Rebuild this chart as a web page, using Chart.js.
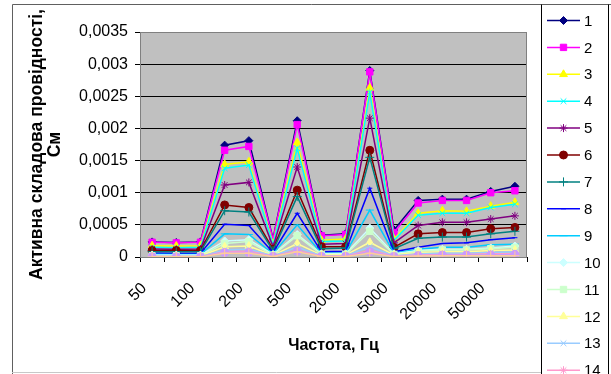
<!DOCTYPE html>
<html>
<head>
    <title>Активна складова провідності</title>
    <script src="https://cdn.jsdelivr.net/npm/chart.js"></script>
    <style>
        html, body {
            margin: 0;
            padding: 0;
            background: #fff;
            overflow: hidden;
        }
        #wrap {
            width: 611px;
            height: 374px;
        }
    </style>
</head>
<body>
    <div id="wrap"><canvas id="myChart"></canvas></div>

    <script>
        // frequency, Hz (only every second one is labelled on the axis)
        const freqLabels = ['50', '70', '100', '150', '200', '300', '500', '1000', '2000', '3000', '5000', '10000', '20000', '30000', '50000', '100000'];

        const s1 = [0.000235, 0.000225, 0.000235, 0.00174, 0.00181, 0.00028, 0.00212, 0.00034, 0.00036, 0.0029, 0.00042, 0.00088, 0.0009, 0.0009, 0.00102, 0.0011];
        const s2 = [0.00023, 0.00022, 0.00023, 0.00166, 0.00172, 0.000275, 0.00206, 0.00033, 0.00035, 0.00288, 0.00038, 0.00084, 0.00088, 0.00088, 0.001, 0.00103];
        const s3 = [0.000176, 0.00017, 0.000176, 0.00144, 0.00148, 0.00021, 0.00178, 0.00026, 0.00028, 0.00263, 0.00028, 0.00068, 0.00072, 0.00071, 0.00079, 0.00085];
        const s4 = [0.00015, 0.000145, 0.00015, 0.00138, 0.00143, 0.00019, 0.00169, 0.00024, 0.00025, 0.00256, 0.00026, 0.00065, 0.00068, 0.00068, 0.00077, 0.00082];
        const s5 = [0.000124, 0.00012, 0.000124, 0.00112, 0.00116, 0.00016, 0.0014, 0.0002, 0.00021, 0.00216, 0.00022, 0.00049, 0.00054, 0.00054, 0.00059, 0.00064];
        const s6 = [0.0001, 0.0001, 0.0001, 0.00081, 0.00077, 0.00012, 0.00104, 0.00016, 0.00016, 0.00166, 0.00015, 0.00036, 0.00038, 0.00038, 0.00044, 0.00046];
        const s7 = [0.000083, 0.00008, 0.000083, 0.00072, 0.0007, 0.0001, 0.00094, 0.00013, 0.00014, 0.00155, 0.00013, 0.00029, 0.00031, 0.00031, 0.00036, 0.0004];
        const s8 = [0.000057, 0.000055, 0.000057, 0.00051, 0.00049, 0.00007, 0.00068, 0.00008, 0.00009, 0.00107, 0.00008, 0.00015, 0.00021, 0.00022, 0.00027, 0.0003];
        const s9 = [0.000041, 0.00004, 0.000041, 0.00036, 0.00035, 0.00005, 0.0005, 0.00006, 0.00006, 0.00073, 0.00006, 0.00012, 0.00015, 0.00015, 0.00019, 0.0002];
        const s10 = [0.00003, 0.00003, 0.00003, 0.00025, 0.00027, 0.00004, 0.00035, 0.00005, 0.00005, 0.00045, 0.00005, 0.0001, 0.00012, 0.00012, 0.00014, 0.00017];
        const s11 = [0.00002, 0.00002, 0.00002, 0.00021, 0.00024, 0.00003, 0.00033, 0.00004, 0.00004, 0.0004, 0.00004, 0.00009, 0.00011, 0.00011, 0.00013, 0.00015];
        const s12 = [0.000016, 0.000016, 0.000016, 0.00016, 0.00017, 0.000025, 0.00021, 0.00003, 0.00003, 0.00023, 0.00003, 0.00007, 0.00008, 0.00008, 0.0001, 0.00011];
        const s13 = [0.00001, 0.00001, 0.00001, 0.00011, 0.00012, 0.00002, 0.00015, 0.00002, 0.00002, 0.00016, 0.00002, 0.00005, 0.00006, 0.00006, 0.00007, 0.00008];
        const s14 = [0.000006, 0.000006, 0.000006, 0.00008, 0.00009, 0.000012, 0.0001, 0.000015, 0.000015, 0.0001, 0.000015, 0.00003, 0.00004, 0.00004, 0.00005, 0.00005];
        const s15 = [0.000004, 0.000004, 0.000004, 0.00007, 0.00007, 0.00001, 0.00009, 0.00001, 0.00001, 0.00008, 0.00001, 0.00002, 0.00003, 0.00003, 0.00003, 0.00004];
        const s16 = [0.000002, 0.000002, 0.000002, 0.00006, 0.00006, 0.000008, 0.00008, 0.000008, 0.000008, 0.00006, 0.000008, 0.000015, 0.00002, 0.00002, 0.00002, 0.00002];

        const seriesNames = ['1', '2', '3', '4', '5', '6', '7', '8', '9', '10', '11', '12', '13', '14', '15', '16'];
        const seriesData = [s1, s2, s3, s4, s5, s6, s7, s8, s9, s10, s11, s12, s13, s14, s15, s16];

        const colors = ['#000080', '#FF00FF', '#FFFF00', '#00FFFF', '#800080', '#800000', '#008080', '#0000FF',
                        '#00CCFF', '#CCFFFF', '#CCFFCC', '#FFFF99', '#99CCFF', '#FF99CC', '#CC99FF', '#FFCC99'];
        const markers = ['rectRot', 'rect', 'triangle', 'crossRot', 'star', 'circle', 'cross', 'line',
                         'line', 'rectRot', 'rect', 'triangle', 'crossRot', 'star', 'circle', 'cross'];
        const markerSize = [4, 4.5, 4.5, 4, 4, 4, 4.5, 2.5, 4, 4, 4.5, 4.5, 4, 4, 4, 4.5];

        const FONT = "'Liberation Sans', Arial, sans-serif";

        const datasets = seriesData.map((d, i) => ({
            label: seriesNames[i],
            data: d,
            borderColor: colors[i],
            backgroundColor: colors[i],
            pointBackgroundColor: colors[i],
            pointBorderColor: colors[i],
            pointStyle: markers[i],
            pointRadius: markerSize[i],
            pointBorderWidth: 1,
            borderWidth: 1.5,
            tension: 0,
            order: seriesData.length - i   // later series on top, as in Excel
        }));

        // grey plot area + white page
        const bgPlugin = {
            id: 'bg',
            beforeDraw(chart) {
                const ctx = chart.ctx;
                const a = chart.chartArea;
                ctx.save();
                ctx.fillStyle = '#fff';
                ctx.fillRect(0, 0, chart.width, chart.height);
                ctx.fillStyle = '#C0C0C0';
                ctx.fillRect(a.left, a.top, a.right - a.left, a.bottom - a.top);
                ctx.restore();
            },
            beforeDatasetsDraw(chart) {
                const ctx = chart.ctx;
                const a = chart.chartArea;
                ctx.save();
                ctx.strokeStyle = '#808080';
                ctx.lineWidth = 1;
                ctx.strokeRect(a.left + 0.5, a.top + 0.5, a.right - a.left - 1, a.bottom - a.top);
                ctx.restore();
            }
        };

        // frame and the legend box on the right (runs past the bottom edge)
        const legendPlugin = {
            id: 'boxLegend',
            afterDraw(chart) {
                const ctx = chart.ctx;
                ctx.save();
                ctx.lineWidth = 1;
                ctx.strokeStyle = '#606060';
                ctx.beginPath();
                ctx.moveTo(12.5, 374);
                ctx.lineTo(12.5, 4.5);
                ctx.lineTo(611, 4.5);
                ctx.stroke();
                ctx.strokeStyle = '#c8c8c8';
                ctx.beginPath();
                ctx.moveTo(12, 372.5);
                ctx.lineTo(541, 372.5);
                ctx.stroke();
                ctx.strokeStyle = '#000';
                ctx.beginPath();
                ctx.moveTo(541.5, 4.5);
                ctx.lineTo(541.5, 374);
                ctx.moveTo(608.5, 4.5);
                ctx.lineTo(608.5, 374);
                ctx.stroke();

                ctx.font = '15px ' + FONT;
                ctx.textBaseline = 'middle';
                ctx.textAlign = 'left';
                chart.data.datasets.forEach((ds, i) => {
                    const y = 20.5 + i * 26.9;
                    ctx.strokeStyle = ds.borderColor;
                    ctx.lineWidth = 1.5;
                    ctx.beginPath();
                    ctx.moveTo(547, y);
                    ctx.lineTo(580, y);
                    ctx.stroke();
                    ctx.fillStyle = ds.pointBackgroundColor;
                    ctx.strokeStyle = ds.pointBorderColor;
                    ctx.lineWidth = 1;
                    Chart.helpers.drawPoint(ctx, {pointStyle: ds.pointStyle, radius: ds.pointRadius, rotation: 0, borderWidth: 1}, 563.5, y);
                    ctx.fillStyle = '#000';
                    ctx.fillText(ds.label, 584, y + 1);
                });
                ctx.restore();
            }
        };

        const ctx = document.getElementById('myChart').getContext('2d');
        new Chart(ctx, {
            type: 'line',
            data: {
                labels: freqLabels,
                datasets: datasets
            },
            options: {
                responsive: true,
                maintainAspectRatio: false,
                animation: false,
                layout: {
                    padding: { left: 12, right: 84, top: 32, bottom: 0 }
                },
                plugins: {
                    legend: { display: false },
                    tooltip: { enabled: false }
                },
                scales: {
                    x: {
                        offset: true,
                        afterFit(scale) { scale.height = 117; },
                        grid: {
                            offset: true,
                            drawOnChartArea: false,
                            drawTicks: true,
                            tickLength: 5,
                            color: '#000'
                        },
                        border: { color: '#000' },
                        ticks: {
                            autoSkip: false,
                            minRotation: 45,
                            maxRotation: 45,
                            padding: 17,
                            labelOffset: -8,
                            color: '#000',
                            font: { family: FONT, size: 16 },
                            callback(value, index) {
                                return index % 2 === 0 ? freqLabels[index] : '';
                            }
                        },
                        title: {
                            display: true,
                            text: 'Частота, Гц',
                            color: '#000',
                            font: { family: FONT, size: 16, weight: 'bold' },
                            padding: { top: 0, bottom: 19 }
                        }
                    },
                    y: {
                        min: 0,
                        max: 0.0035,
                        afterFit(scale) { scale.width = 128; },
                        grid: {
                            color: '#000',
                            tickLength: 5
                        },
                        border: { color: '#000' },
                        ticks: {
                            stepSize: 0.0005,
                            padding: 7,
                            color: '#000',
                            font: { family: FONT, size: 16 },
                            callback(value) {
                                return String(+value.toFixed(4)).replace('.', ',');
                            }
                        },
                        title: {
                            display: true,
                            text: ['Активна складова провідності,', 'См'],
                            color: '#000',
                            font: { family: FONT, size: 17.5, weight: 'bold', lineHeight: 1.05 },
                            padding: { top: 16, bottom: 0 }
                        }
                    }
                }
            },
            plugins: [bgPlugin, legendPlugin]
        });
    </script>
</body>
</html>
